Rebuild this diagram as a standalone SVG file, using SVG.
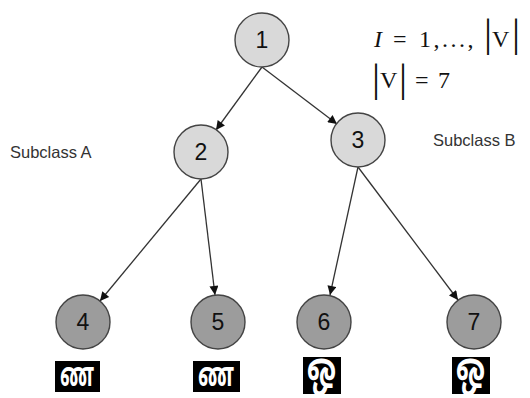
<svg xmlns="http://www.w3.org/2000/svg" width="530" height="398" viewBox="0 0 530 398">
  <style>
    .inner { fill: #d9d9d9; stroke: #444; stroke-width: 1.4; }
    .leaf { fill: #9c9c9c; stroke: #444; stroke-width: 1.4; }
    .num { font-family: "Liberation Sans", Arial, sans-serif; font-size: 23px; fill: #111; text-anchor: middle; }
    .cap { font-family: "Liberation Sans", Arial, sans-serif; font-size: 16.5px; fill: #333; }
    .math { font-family: "Liberation Serif", "Times New Roman", serif; font-size: 24px; fill: #111; }
    .bar { font-family: "Liberation Serif", "Times New Roman", serif; font-size: 40px; fill: #111; }
    .edge { stroke: #333; stroke-width: 1.3; fill: none; marker-end: url(#head); }
    .glyph { font-family: "Noto Sans Tamil", "Lohit Tamil", "Noto Sans", sans-serif; font-weight: bold; fill: #fff; }
  </style>
  <defs>
    <marker id="head" viewBox="0 0 10 10" refX="10" refY="5" markerWidth="11" markerHeight="9" markerUnits="userSpaceOnUse" orient="auto">
      <path d="M0,0 L10,5 L0,10 Z" fill="#111"/>
    </marker>
  </defs>

  <rect width="530" height="398" fill="#fff"/>

  <!-- connectors: from the parent's lowest point to the child's rim -->
  <g id="edges">
    <line class="edge" x1="262" y1="67" x2="216" y2="130"/>
    <line class="edge" x1="262" y1="67" x2="337" y2="124"/>
    <line class="edge" x1="201" y1="179" x2="100" y2="301"/>
    <line class="edge" x1="201" y1="179" x2="215" y2="295"/>
    <line class="edge" x1="358" y1="167" x2="330" y2="295"/>
    <line class="edge" x1="358" y1="167" x2="458" y2="300"/>
  </g>

  <g id="node1"><circle class="inner" cx="262" cy="40" r="27"/><text class="num" x="262" y="48">1</text></g>
  <g id="node2"><circle class="inner" cx="201" cy="152" r="27"/><text class="num" x="201" y="160">2</text></g>
  <g id="node3"><circle class="inner" cx="358" cy="140" r="27"/><text class="num" x="358" y="148">3</text></g>
  <g id="node4"><circle class="leaf" cx="83" cy="322" r="27"/><text class="num" x="83" y="330">4</text></g>
  <g id="node5"><circle class="leaf" cx="218" cy="322" r="27"/><text class="num" x="218" y="330">5</text></g>
  <g id="node6"><circle class="leaf" cx="324" cy="322" r="27"/><text class="num" x="324" y="330">6</text></g>
  <g id="node7"><circle class="leaf" cx="474" cy="322" r="27"/><text class="num" x="474" y="330">7</text></g>

  <!-- subclass captions -->
  <text class="cap" x="10" y="158">Subclass A</text>
  <text class="cap" x="433" y="146">Subclass B</text>

  <!-- index set notation -->
  <g id="formula">
    <text class="math" x="374" y="47" font-style="italic">I</text>
    <text class="math" x="393" y="47">=</text>
    <text class="math" x="419" y="47" letter-spacing="2.5">1,...,</text>
    <text class="bar" x="484" y="46">|</text>
    <text class="math" x="492" y="47">V</text>
    <text class="bar" x="512" y="46">|</text>
    <text class="bar" x="372" y="91">|</text>
    <text class="math" x="380" y="88">V</text>
    <text class="bar" x="399" y="91">|</text>
    <text class="math" x="415" y="88">=</text>
    <text class="math" x="438" y="88">7</text>
  </g>

  <!-- character samples: white glyph on a black tile -->
  <g id="sample4"><rect x="55" y="361" width="45" height="31" fill="#000"/><text class="glyph" x="60" y="386" font-size="34" textLength="34" lengthAdjust="spacingAndGlyphs">ண</text></g>
  <g id="sample5"><rect x="193" y="361" width="47" height="31" fill="#000"/><text class="glyph" x="198" y="386" font-size="34" textLength="36" lengthAdjust="spacingAndGlyphs">ண</text></g>
  <g id="sample6"><rect x="303" y="357" width="38" height="37" fill="#000"/><text class="glyph" x="307" y="383" font-size="42" textLength="29" lengthAdjust="spacingAndGlyphs">ஒ</text></g>
  <g id="sample7"><rect x="452" y="357" width="38" height="37" fill="#000"/><text class="glyph" x="456" y="383" font-size="42" textLength="29" lengthAdjust="spacingAndGlyphs">ஒ</text></g>
</svg>
